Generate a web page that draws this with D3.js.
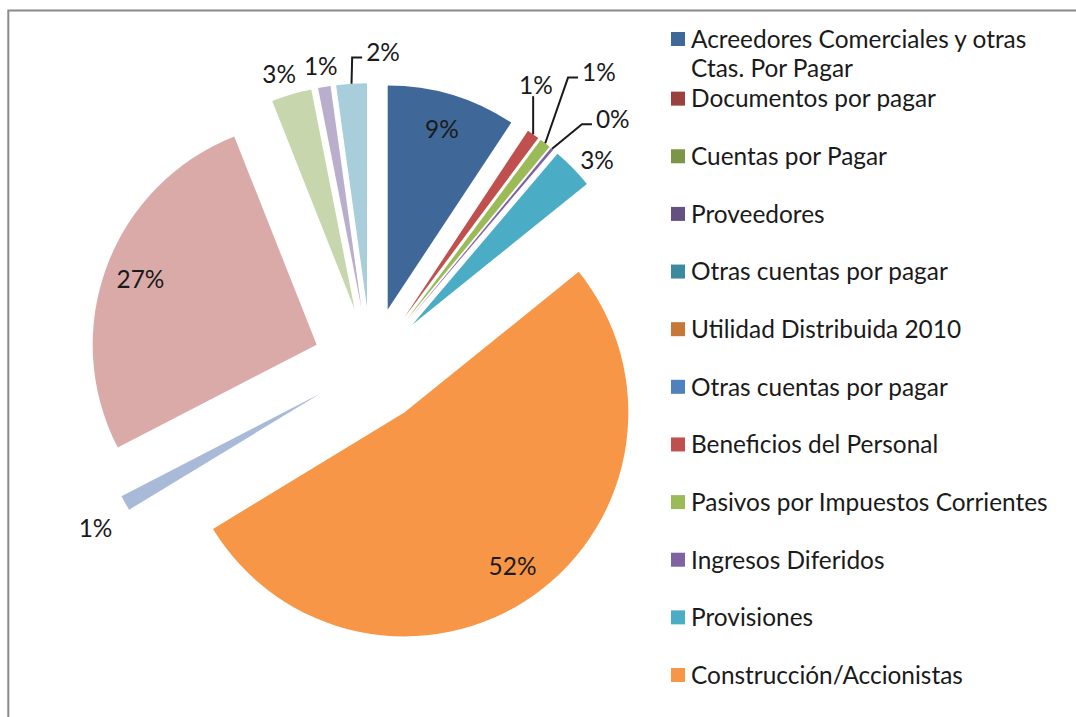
<!DOCTYPE html>
<html><head><meta charset="utf-8">
<script src="https://cdn.jsdelivr.net/npm/d3@7"></script>
<style>html,body{margin:0;padding:0;background:#fff;overflow:hidden}</style>
</head><body>
<svg id="chart" width="1076" height="717"></svg>
<script>
// ---- data ----
const legendLabels = ["Acreedores Comerciales y otras Ctas. Por Pagar","Documentos por pagar","Cuentas por Pagar","Proveedores","Otras cuentas por pagar","Utilidad Distribuida 2010","Otras cuentas por pagar","Beneficios del Personal","Pasivos por Impuestos Corrientes","Ingresos Diferidos","Provisiones","Construcción/Accionistas"];
const legendColors = ["#3F6797","#9A403E","#7C9647","#665082","#3C8A9E","#C67838","#4F81BD","#C0504D","#9BBB59","#8064A2","#4BACC6","#F79646"];
// slices, clockwise from 12 o'clock (shares in %)
const sliceValues = [9.3, 0.9, 0.8, 0.2, 3.0, 52.1, 1.1, 26.6, 2.9, 0.9, 2.2];
const sliceColors = ["#3F6797","#C0504D","#9BBB59","#8064A2","#4BACC6","#F79646","#A9BAD8","#DAAAA9","#C7D6AD","#B9AECB","#A8CEDB"];

// ---- layout (not data) ----
const W = 1076, H = 717;
const C = [371, 365], R = 224, EXPLODE = 58;
const FONT = "Lato, 'Open Sans', 'DejaVu Sans', sans-serif";
const TEXT = "#1a1a1a";
const labelLayout = [
  {type:"in", r:0.84},
  {type:"leader", ang:30.5, dist:325},
  {type:"leader", ang:37.9, dist:371},
  {type:"leader", ang:44.5, dist:345},
  {type:"out", extra:23, dAng:2.6},
  {type:"in", r:0.84},
  {type:"out", extra:38, dAng:-1.5},
  {type:"in", r:0.84},
  {type:"out", extra:23, dAng:-1.4},
  {type:"out", extra:21, dAng:0},
  {type:"leader", ang:2.2, dist:313}
];

const svg = d3.select("#chart");
svg.append("rect").attr("width", W).attr("height", H).attr("fill", "#fff");
svg.append("rect").attr("x", 8.3).attr("y", 10.5).attr("width", 3000).attr("height", 3000)
  .attr("fill", "none").attr("stroke", "#8a8a8a").attr("stroke-width", 2);

// fit font size so the longest legend line matches the reference width
const probe = svg.append("text").style("font-family", FONT).style("font-size", "100px").text("Pasivos por Impuestos Corrientes");
const FS = 100 * 357 / probe.node().getComputedTextLength();
probe.remove();

const u = a => [Math.sin(a), -Math.cos(a)];
const rad = d => d * Math.PI / 180;

const pie = d3.pie().sort(null).value(d => d).startAngle(0).endAngle(2 * Math.PI);
const arcs = pie(sliceValues);
const arc = d3.arc().innerRadius(0).outerRadius(R);
const total = d3.sum(sliceValues);
const pct = d3.format(".0%");

const slices = svg.append("g");
arcs.forEach((p, i) => {
  const mid = (p.startAngle + p.endAngle) / 2;
  const v = u(mid);
  const tip = [C[0] + EXPLODE * v[0], C[1] + EXPLODE * v[1]];
  p.tip = tip; p.mid = mid;
  slices.append("path")
    .attr("transform", `translate(${tip[0]},${tip[1]})`)
    .attr("d", arc(p))
    .attr("fill", sliceColors[i]);
});

const labels = svg.append("g").style("font-family", FONT).style("font-size", FS + "px").attr("fill", TEXT);
const leaders = svg.append("g").attr("fill", "none").attr("stroke", TEXT).attr("stroke-width", 2);
arcs.forEach((p, i) => {
  const L = labelLayout[i];
  const txt = pct(p.value / total);
  let pos;
  if (L.type === "in") {
    const v = u(p.mid);
    pos = [p.tip[0] + L.r * R * v[0], p.tip[1] + L.r * R * v[1]];
  } else if (L.type === "out") {
    const v = u(p.mid + rad(L.dAng));
    pos = [p.tip[0] + (R + L.extra) * v[0], p.tip[1] + (R + L.extra) * v[1]];
  } else {
    const v = u(rad(L.ang));
    pos = [C[0] + L.dist * v[0], C[1] + L.dist * v[1]];
  }
  const t = labels.append("text").attr("x", pos[0]).attr("y", pos[1])
    .attr("dy", "0.36em").attr("text-anchor", "middle").text(txt);
  if (L.type === "leader") {
    const w = t.node().getComputedTextLength();
    const v = u(p.mid);
    const s = [p.tip[0] + R * v[0], p.tip[1] + R * v[1]];
    const path = d3.path();
    path.moveTo(s[0], s[1]);
    if (Math.abs(s[0] - pos[0]) < w / 2) {
      path.lineTo(s[0], pos[1] + FS * 0.46);
    } else {
      const left = pos[0] - w / 2;
      const yy = pos[1] + FS * 0.22;
      path.lineTo(left - 14, yy);
      path.lineTo(left - 4, yy);
    }
    leaders.append("path").attr("d", path.toString());
  }
});

// legend
const ly = d3.scalePoint().domain(d3.range(legendLabels.length)).range([41, 675]);
const legend = svg.append("g").style("font-family", FONT).style("font-size", FS + "px").attr("fill", TEXT);
const MAXW = 368;
const LINE = 29;
legendLabels.forEach((name, i) => {
  const y = ly(i);
  // wrap by measured width
  const words = name.split(" ");
  const lines = [];
  let cur = "";
  const probeT = legend.append("text");
  words.forEach(wd => {
    const trial = cur ? cur + " " + wd : wd;
    probeT.text(trial);
    if (probeT.node().getComputedTextLength() > MAXW && cur) { lines.push(cur); cur = wd; }
    else cur = trial;
  });
  lines.push(cur);
  probeT.remove();
  const y0 = y - (lines.length - 1) * 2;
  legend.append("rect").attr("x", 671).attr("y", y0 - 7).attr("width", 14).attr("height", 14).attr("fill", legendColors[i]);
  lines.forEach((ln, k) => {
    legend.append("text").attr("x", 691).attr("y", y0 + k * LINE).attr("dy", "0.36em").text(ln);
  });
});
</script>
</body></html>
